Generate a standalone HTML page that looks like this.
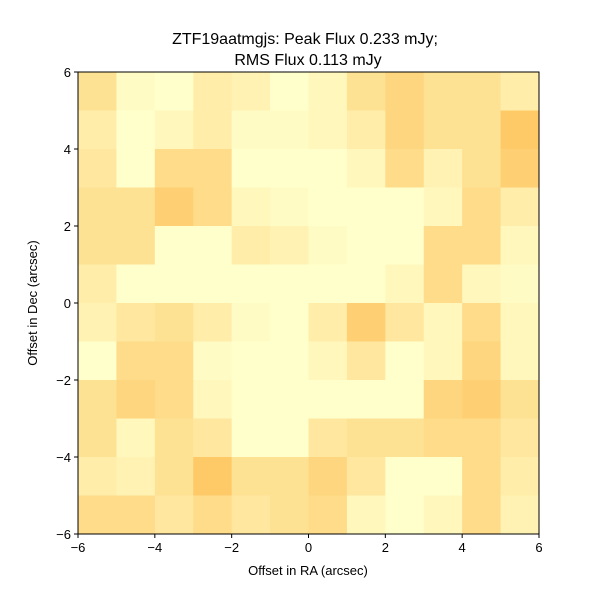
<!DOCTYPE html>
<html><head><meta charset="utf-8"><style>
body{margin:0;background:#fff;font-family:"Liberation Sans",sans-serif;}
</style></head><body>
<svg id="chart" width="600" height="600" xmlns="http://www.w3.org/2000/svg">
<rect width="600" height="600" fill="#fff"/>
<text x="305" y="44" text-anchor="middle" font-size="16">ZTF19aatmgjs: Peak Flux 0.233 mJy;</text>
<text x="308" y="65" text-anchor="middle" font-size="16">RMS Flux 0.113 mJy</text>
<g id="cells"></g>
<g id="axes"></g>
<text x="308" y="575" text-anchor="middle" font-size="13">Offset in RA (arcsec)</text>
<text transform="translate(37,303) rotate(-90)" text-anchor="middle" font-size="13">Offset in Dec (arcsec)</text>
</svg>
<script>
const xTicks=[-6,-4,-2,0,2,4,6];
const yTicks=[-6,-4,-2,0,2,4,6];
const xEdges=[-6,-5,-4,-3,-2,-1,0,1,2,3,4,5,6];
const yEdges=[6,5,4,3,2,1,0,-1,-2,-3,-4,-5,-6];
const levels=[
[3,0.5,0,2,1.5,0,1,3,4,3,3,2],
[2,0,1,2,0.5,0.5,1,2,4,3,3,5],
[2.5,0,3.5,3.5,0,0,0,1,3.5,1.5,3,4.5],
[3,3,4.5,3.5,1,0.5,0,0,0,1,3.5,2],
[3,3,0,0,2,1.5,0.5,0,0,3.5,3.5,1],
[2,0,0,0,0,0,0,0,1,3.5,1,0.5],
[1.5,2.5,3,2,0.5,0,2,4.5,2.5,1,3.5,1],
[0,3.5,3.5,0.5,0,0,1,2.5,0,1,4,1],
[3,4,3.5,1,0,0,0,0,0,4,4.5,3],
[3,1,3,2.5,0,0,2.5,3,3,3.5,3.5,2.5],
[2,1.5,3,5,3,3,4,2.5,0,0,3.5,2],
[3.5,3.5,2.5,3.5,2.5,3,3.5,1,0,1,3.5,1.5]
];
const L=78,R=539,T=72,B=534;
const sx=v=>L+(v+6)/12*(R-L);
const sy=v=>B-(v+6)/12*(B-T);
function col(l){const t=Math.pow(l/5,1.15);const c=[255+(254-255)*t,255+(202-255)*t,204+(104-204)*t].map(Math.round);return `rgb(${c[0]},${c[1]},${c[2]})`;}
const NS="http://www.w3.org/2000/svg";
const cells=document.getElementById('cells');
levels.forEach((row,i)=>row.forEach((l,j)=>{
const r=document.createElementNS(NS,'rect');
const x0=sx(xEdges[j]),x1=sx(xEdges[j+1]),y0=sy(yEdges[i]),y1=sy(yEdges[i+1]);
r.setAttribute('x',x0);r.setAttribute('y',y0);r.setAttribute('width',x1-x0+0.5);r.setAttribute('height',y1-y0+0.5);
r.setAttribute('fill',col(l));


cells.appendChild(r);
}));
const ax=document.getElementById('axes');
let h=`<rect x="${L}" y="${T}" width="${R-L}" height="${B-T}" fill="none" stroke="#000" stroke-width="1"/>`;
xTicks.forEach(v=>{const x=sx(v);h+=`<line x1="${x}" y1="${B}" x2="${x}" y2="${B+4}" stroke="#000"/><text x="${x}" y="${B+18}" text-anchor="middle" font-size="13">${v<0?'\u2212'+(-v):v}</text>`;});
yTicks.forEach(v=>{const y=sy(v);h+=`<line x1="${L-4}" y1="${y}" x2="${L}" y2="${y}" stroke="#000"/><text x="${L-7}" y="${y+5}" text-anchor="end" font-size="13">${v<0?'\u2212'+(-v):v}</text>`;});
ax.innerHTML=h;


</script>
</body></html>
